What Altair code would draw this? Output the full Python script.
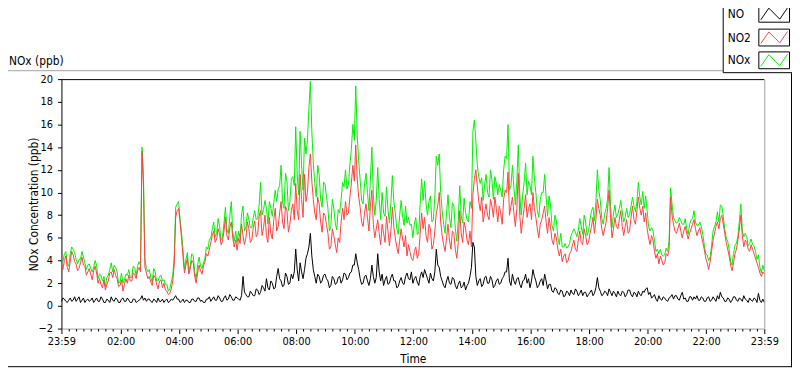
import json
import pandas as pd
import altair as alt

# ---- data: one sample every 3 minutes, starting 23:59 (one row per hour) ----
NO2 = [
    3.6, 3.2, 4.0, 4.4, 3.4, 3.0, 3.9, 4.8, 4.5, 3.9, 3.7, 3.1, 3.3, 3.8, 4.3, 3.6, 3.5, 2.7, 3.0, 3.3,
    2.8, 2.3, 3.1, 3.5, 2.9, 2.0, 2.4, 1.9, 1.6, 2.3, 1.4, 1.9, 2.2, 2.9, 3.0, 2.5, 3.2, 2.7, 2.4, 1.7,
    1.8, 2.3, 1.3, 1.9, 2.4, 2.0, 2.7, 2.2, 2.2, 2.9, 2.8, 2.4, 3.1, 3.4, 3.0, 13.6, 10.6, 3.4, 2.9, 2.4,
    2.6, 2.1, 1.8, 2.7, 2.5, 1.9, 1.5, 2.2, 2.3, 1.6, 2.0, 1.4, 1.3, 1.0, 1.1, 1.5, 2.2, 3.6, 7.8, 8.4,
    8.6, 7.4, 6.0, 4.4, 2.9, 3.6, 4.2, 2.8, 3.3, 4.0, 3.8, 2.6, 2.0, 2.9, 3.6, 3.1, 2.8, 3.5, 3.9, 4.6,
    4.4, 5.0, 5.6, 6.2, 6.6, 5.6, 5.9, 6.8, 6.3, 5.4, 5.7, 6.6, 7.8, 6.2, 5.8, 6.9, 7.4, 6.0, 5.2, 5.8,
    4.9, 6.0, 5.5, 7.2, 6.2, 5.4, 6.0, 7.4, 6.8, 5.6, 5.8, 6.9, 7.5, 6.1, 6.3, 7.9, 8.4, 6.2, 6.9, 8.0,
    6.2, 5.6, 7.8, 6.4, 5.9, 7.6, 8.6, 6.6, 7.0, 8.2, 9.2, 7.4, 6.8, 8.8, 8.4, 6.5, 7.2, 8.4, 9.0, 7.6,
    10.8, 8.4, 7.6, 11.6, 9.4, 7.8, 11.6, 9.2, 10.0, 12.2, 13.4, 11.0, 9.4, 8.2, 7.6, 9.6, 9.0, 7.4, 6.5, 8.2,
    8.0, 7.2, 6.4, 5.0, 5.2, 6.8, 6.2, 5.4, 4.7, 6.0, 5.6, 7.4, 8.6, 7.6, 9.2, 8.0, 8.2, 9.6, 10.8, 12.4,
    11.0, 14.2, 11.2, 9.6, 8.7, 7.4, 7.0, 8.2, 9.0, 7.8, 6.6, 8.8, 10.2, 7.2, 6.0, 6.8, 7.6, 6.4, 5.4, 7.2,
    6.4, 5.6, 7.9, 6.6, 5.3, 6.6, 8.7, 7.0, 6.0, 5.2, 4.6, 5.8, 6.8, 5.9, 5.2, 6.2, 4.4, 5.4, 4.8, 4.2,
    4.0, 4.8, 5.2, 4.2, 4.6, 6.4, 8.2, 6.8, 7.8, 6.2, 5.6, 7.2, 6.8, 5.0, 5.4, 6.6, 8.2, 8.8, 10.0, 7.4,
    6.2, 5.4, 4.8, 6.0, 7.2, 5.8, 5.0, 6.6, 6.4, 5.0, 4.2, 5.6, 8.4, 6.4, 5.6, 7.4, 6.8, 5.8, 5.4, 6.6,
    5.2, 9.8, 11.2, 12.0, 10.6, 9.2, 8.4, 9.6, 7.4, 8.2, 9.0, 8.0, 7.6, 9.4, 8.8, 7.8, 9.6, 8.6, 7.4, 8.8,
    8.2, 7.2, 9.4, 10.2, 10.0, 11.8, 8.0, 8.8, 9.6, 8.2, 7.0, 8.6, 11.7, 8.0, 6.4, 7.6, 8.6, 9.8, 7.8, 8.6,
    9.0, 7.6, 10.0, 8.6, 7.8, 6.8, 6.0, 7.2, 7.6, 8.2, 8.8, 7.4, 6.4, 7.8, 7.0, 5.8, 5.4, 6.4, 6.0, 5.0,
    4.4, 5.0, 3.9, 4.4, 4.6, 3.8, 4.0, 4.6, 4.8, 5.4, 5.8, 5.0, 4.8, 5.8, 6.6, 5.6, 5.4, 6.8, 6.2, 5.4,
    5.6, 6.4, 7.0, 7.8, 6.4, 7.6, 9.4, 8.6, 8.0, 6.8, 6.2, 6.8, 7.4, 8.6, 10.2, 7.8, 6.0, 6.8, 7.8, 7.0,
    6.8, 7.6, 8.4, 7.0, 6.2, 7.0, 7.6, 6.4, 6.6, 7.8, 8.8, 7.6, 7.2, 8.4, 9.6, 8.6, 8.0, 8.8, 7.4, 8.2,
    6.8, 6.0, 5.4, 6.2, 5.8, 4.8, 4.2, 4.6, 3.7, 4.4, 4.0, 3.6, 3.8, 4.6, 4.4, 5.0, 9.6, 8.0, 7.2, 6.6,
    6.4, 6.8, 7.3, 6.6, 6.0, 6.6, 7.0, 6.4, 5.9, 6.4, 6.8, 7.2, 7.6, 6.8, 6.2, 6.6, 6.9, 6.2, 5.6, 5.0,
    4.2, 3.8, 3.2, 3.9, 4.8, 5.8, 6.4, 7.0, 7.4, 6.8, 7.7, 8.0, 7.2, 6.4, 5.6, 5.0, 4.4, 3.6, 3.1, 3.8,
    4.6, 5.0, 5.8, 6.8, 8.0, 6.2, 5.2, 5.8, 5.6, 5.0, 4.8, 5.4, 5.0, 4.6, 4.2, 3.8, 3.4, 2.9, 2.6, 3.0,
    2.8,
]
NO = [
    0.4, 0.7, 0.6, 0.4, 0.3, 0.5, 0.7, 0.4, 0.5, 0.8, 0.4, 0.6, 0.8, 0.3, 0.5, 0.7, 0.3, 0.5, 0.6, 0.4,
    0.5, 0.7, 0.3, 0.5, 0.7, 0.4, 0.4, 0.8, 0.6, 0.3, 0.3, 0.6, 0.5, 0.3, 0.8, 0.5, 0.4, 0.7, 0.6, 0.3,
    0.3, 0.6, 0.7, 0.4, 0.4, 0.7, 0.5, 0.3, 0.3, 0.6, 0.6, 0.3, 0.4, 0.5, 0.6, 0.9, 0.5, 0.7, 0.4, 0.6,
    0.6, 0.4, 0.3, 0.6, 0.5, 0.3, 0.7, 0.4, 0.4, 0.6, 0.3, 0.5, 0.6, 0.3, 0.4, 0.6, 0.5, 0.7, 0.9, 0.6,
    0.6, 0.3, 0.4, 0.6, 0.3, 0.5, 0.5, 0.3, 0.3, 0.6, 0.6, 0.4, 0.4, 0.7, 0.7, 0.4, 0.5, 0.3, 0.3, 0.6,
    0.6, 0.8, 0.4, 0.6, 0.8, 0.5, 0.5, 0.9, 0.7, 0.4, 0.4, 0.7, 0.9, 0.5, 0.6, 1.0, 0.8, 0.5, 0.5, 0.8,
    0.7, 0.6, 0.5, 0.9, 2.6, 1.2, 1.0, 0.8, 0.8, 1.3, 1.1, 0.9, 0.9, 1.5, 1.4, 1.0, 1.2, 1.8, 1.6, 1.3,
    2.4, 1.6, 1.4, 2.2, 2.0, 1.5, 1.6, 2.6, 3.3, 2.4, 2.2, 1.7, 1.8, 2.9, 2.6, 1.9, 2.0, 2.8, 2.4, 3.0,
    5.0, 3.2, 2.2, 3.8, 3.0, 2.4, 3.2, 4.2, 4.6, 5.2, 6.4, 4.4, 3.2, 2.6, 2.0, 2.8, 2.6, 2.0, 2.2, 2.7,
    2.8, 2.4, 2.2, 1.6, 1.8, 2.6, 2.4, 1.9, 2.0, 2.5, 2.6, 2.0, 2.3, 2.9, 2.8, 2.3, 2.5, 2.9, 3.0, 3.6,
    3.6, 4.6, 3.8, 3.2, 2.4, 1.9, 2.0, 2.6, 2.7, 2.2, 1.8, 2.4, 3.6, 2.6, 2.0, 2.5, 4.6, 3.0, 2.2, 2.8,
    1.8, 2.3, 2.6, 1.9, 2.0, 2.5, 2.8, 2.2, 2.2, 1.6, 1.7, 2.2, 2.5, 2.0, 1.9, 2.6, 2.9, 2.4, 2.3, 3.0,
    2.0, 2.4, 2.6, 2.1, 1.8, 2.6, 3.0, 2.5, 3.2, 2.8, 2.4, 2.0, 2.9, 2.4, 2.2, 3.0, 5.0, 3.6, 3.4, 2.6,
    2.2, 1.8, 1.6, 2.2, 2.6, 2.0, 1.9, 2.5, 2.4, 1.8, 1.5, 1.9, 2.2, 1.6, 1.7, 2.1, 1.4, 1.8, 2.0, 2.6,
    3.4, 5.6, 5.2, 2.6, 1.8, 2.2, 2.4, 1.7, 1.9, 2.5, 2.6, 2.0, 2.0, 2.6, 2.3, 1.6, 1.8, 2.2, 2.4, 1.9,
    2.0, 2.4, 2.6, 3.0, 3.0, 4.2, 2.2, 1.8, 2.8, 2.2, 1.9, 2.4, 2.5, 1.9, 1.6, 2.2, 2.3, 2.8, 2.0, 2.4,
    1.6, 2.2, 3.2, 2.6, 2.2, 1.6, 1.8, 2.2, 2.4, 1.8, 2.8, 2.2, 1.5, 1.9, 1.9, 1.3, 1.2, 1.6, 1.5, 1.1,
    1.0, 1.4, 1.3, 0.8, 0.9, 1.3, 1.2, 0.9, 1.4, 1.1, 1.0, 1.5, 1.3, 0.9, 1.1, 1.4, 0.9, 1.2, 1.2, 0.8,
    1.0, 1.2, 1.4, 0.9, 1.1, 1.6, 2.5, 1.6, 1.3, 0.9, 1.0, 1.3, 1.2, 0.9, 1.5, 1.2, 0.9, 1.3, 1.1, 0.8,
    1.3, 1.0, 0.9, 1.3, 1.2, 0.8, 1.0, 1.4, 1.4, 1.0, 0.8, 1.2, 1.1, 0.8, 1.3, 1.0, 0.9, 1.3, 1.2, 1.5,
    1.6, 1.0, 1.2, 0.7, 0.8, 1.0, 0.6, 0.4, 0.9, 0.6, 0.5, 0.8, 0.7, 0.5, 0.4, 0.7, 0.8, 1.0, 0.6, 0.9,
    0.9, 0.6, 0.5, 0.9, 1.2, 0.6, 0.7, 0.4, 0.4, 0.8, 0.8, 0.5, 0.8, 0.6, 0.9, 0.5, 0.5, 0.8, 0.7, 0.4,
    0.4, 0.7, 0.8, 0.4, 0.5, 0.8, 0.6, 0.4, 0.9, 0.6, 1.2, 0.8, 0.7, 0.4, 0.4, 0.7, 0.6, 0.3, 0.5, 0.8,
    0.8, 0.5, 0.4, 0.7, 0.6, 0.4, 0.9, 0.6, 0.5, 0.3, 0.7, 0.5, 0.4, 0.7, 0.6, 0.3, 1.1, 0.5, 0.3, 0.6,
    0.3,
]
NOX = [
    4.0, 3.9, 4.6, 4.8, 3.7, 3.5, 4.6, 5.2, 5.0, 4.7, 4.1, 3.7, 4.1, 4.1, 4.8, 4.3, 3.8, 3.2, 3.6, 3.7,
    3.3, 3.0, 3.4, 4.0, 3.6, 2.4, 2.8, 2.7, 2.2, 2.6, 1.7, 2.5, 2.7, 3.2, 3.8, 3.0, 3.6, 3.4, 3.0, 2.0,
    2.1, 2.9, 2.0, 2.3, 2.8, 2.7, 3.2, 2.5, 2.5, 3.5, 3.4, 2.7, 3.5, 3.9, 3.6, 14.0, 11.6, 4.1, 3.3, 3.0,
    3.2, 2.5, 2.1, 3.3, 3.0, 2.2, 2.2, 2.6, 2.7, 2.2, 2.3, 1.9, 1.9, 1.3, 1.5, 2.1, 2.7, 4.3, 8.7, 9.0,
    9.2, 7.7, 6.4, 5.0, 3.2, 4.1, 4.7, 3.1, 3.6, 4.6, 4.4, 3.0, 2.4, 3.6, 4.3, 3.5, 3.3, 3.8, 4.2, 5.2,
    5.0, 5.8, 6.0, 6.8, 7.4, 6.1, 6.4, 7.7, 7.0, 5.8, 6.1, 7.3, 8.7, 6.7, 6.4, 7.9, 9.2, 6.5, 5.7, 6.6,
    5.6, 6.6, 6.0, 8.1, 8.8, 6.6, 7.0, 8.2, 7.6, 6.9, 6.9, 7.8, 8.4, 7.6, 7.7, 8.9, 10.9, 8.0, 8.5, 9.3,
    8.6, 7.2, 9.2, 8.6, 7.9, 9.1, 10.2, 9.2, 10.3, 10.6, 12.4, 9.1, 8.6, 11.7, 11.0, 8.4, 9.2, 11.2, 11.4, 10.6,
    15.8, 11.6, 9.8, 15.4, 12.4, 10.2, 14.8, 13.4, 14.6, 17.4, 19.8, 15.4, 12.6, 10.8, 9.6, 12.4, 11.6, 9.4, 8.7, 10.9,
    10.8, 9.6, 8.6, 6.6, 7.0, 9.4, 8.6, 7.3, 6.7, 8.5, 8.2, 9.4, 10.9, 10.5, 12.0, 10.3, 10.7, 12.5, 13.8, 16.0,
    14.6, 19.4, 15.0, 12.8, 11.1, 9.3, 9.0, 10.8, 11.7, 10.0, 8.4, 11.2, 14.0, 9.8, 8.0, 9.3, 12.2, 9.4, 7.6, 10.0,
    8.2, 7.9, 10.5, 8.5, 7.3, 9.1, 11.5, 9.2, 8.2, 6.8, 6.3, 8.0, 9.3, 7.9, 7.1, 8.8, 7.3, 7.8, 7.1, 7.2,
    6.0, 7.2, 7.8, 6.3, 6.4, 9.0, 11.2, 9.3, 11.0, 9.0, 8.0, 9.2, 9.7, 7.4, 7.6, 9.6, 13.2, 12.4, 13.4, 10.0,
    8.4, 7.2, 6.4, 8.2, 9.8, 7.8, 6.9, 9.1, 8.8, 6.8, 5.7, 7.5, 10.6, 8.0, 7.3, 9.5, 8.2, 7.6, 7.4, 9.2,
    8.6, 15.4, 16.4, 14.6, 12.4, 11.4, 10.8, 11.3, 9.3, 10.7, 11.6, 10.0, 9.6, 12.0, 11.1, 9.4, 11.4, 10.8, 9.8, 10.7,
    10.2, 9.6, 12.0, 13.2, 13.0, 16.0, 10.2, 10.6, 12.4, 10.4, 8.9, 11.0, 14.2, 9.9, 8.0, 9.8, 10.9, 12.6, 9.8, 11.0,
    10.6, 9.8, 13.2, 11.2, 10.0, 8.4, 7.8, 9.4, 10.0, 10.0, 11.6, 9.6, 7.9, 9.7, 8.9, 7.1, 6.6, 8.0, 7.5, 6.1,
    5.4, 6.4, 5.2, 5.2, 5.5, 5.1, 5.2, 5.5, 6.2, 6.5, 6.8, 6.5, 6.1, 6.7, 7.7, 7.0, 6.3, 8.0, 7.4, 6.2,
    6.6, 7.6, 8.4, 8.7, 7.5, 9.2, 12.0, 10.2, 9.3, 7.7, 7.2, 8.1, 8.6, 9.5, 12.2, 9.0, 6.9, 8.1, 8.9, 7.8,
    8.1, 8.6, 9.3, 8.3, 7.4, 7.8, 8.6, 7.8, 8.0, 8.8, 9.6, 8.8, 8.3, 9.2, 10.9, 9.6, 8.9, 10.1, 8.6, 9.7,
    8.4, 7.0, 6.6, 6.9, 6.6, 5.8, 4.8, 5.0, 4.6, 5.0, 4.5, 4.4, 4.5, 5.1, 4.8, 5.7, 10.4, 9.0, 7.8, 7.5,
    7.3, 7.4, 7.8, 7.5, 7.2, 7.2, 7.7, 6.8, 6.3, 7.2, 7.6, 7.7, 8.4, 7.4, 7.1, 7.1, 7.4, 7.0, 6.3, 5.4,
    4.6, 4.5, 4.0, 4.3, 5.3, 6.6, 7.0, 7.4, 8.3, 7.4, 8.9, 8.8, 7.9, 6.8, 6.0, 5.7, 5.0, 3.9, 3.6, 4.6,
    5.4, 5.5, 6.2, 7.5, 9.0, 6.6, 6.1, 6.4, 6.1, 5.3, 5.5, 5.9, 5.4, 5.3, 4.8, 4.1, 4.5, 3.4, 2.9, 3.6,
    3.1,
]
STEP_MIN = 3
assert len(NO2) == len(NO) == len(NOX) == 481
MINUTES = [i * STEP_MIN for i in range(len(NO2))]

TICK_MIN = [0, 121, 241, 361, 481, 601, 721, 841, 961, 1081, 1201, 1321, 1440]
TICK_LBL = ["23:59", "02:00", "04:00", "06:00", "08:00", "10:00", "12:00",
            "14:00", "16:00", "18:00", "20:00", "22:00", "23:59"]
MINOR_MIN = [1 + 15 * k for k in range(96) if k % 8 != 0]
Y_TICKS = [-2, 0, 2, 4, 6, 8, 10, 12, 14, 16, 18, 20]

SERIES = ["NO", "NO2", "NOx"]
COLORS = {"NO": "#000000", "NO2": "#ff4040", "NOx": "#00f000"}

df = pd.DataFrame({"t": MINUTES, "NO": NO, "NO2": NO2, "NOx": NOX})
minor_df = pd.DataFrame({"t": MINOR_MIN})
deco = pd.DataFrame({"d": [0]})

FONT = "DejaVu Sans Condensed, DejaVu Sans, sans-serif"
W, H = 710, 252
GRAY = "#a0a0a0"

label_expr = f"{json.dumps(TICK_LBL)}[indexof({json.dumps(TICK_MIN)}, datum.value)]"

x_scale = alt.Scale(domain=[0, 1440], nice=False, zero=False)
y_scale = alt.Scale(domain=[-2, 20], nice=False, zero=False)
x_axis = alt.Axis(values=TICK_MIN, labelExpr=label_expr, tickSize=5, tickColor="black",
                  domainColor=GRAY, labelFont=FONT, labelFontSize=11, labelColor="black",
                  labelPadding=2, labelFlush=False, labelOverlap=False, labelBound=False,
                  grid=False, title="Time", titleFont=FONT, titleFontSize=12,
                  titleFontWeight="normal", titleColor="black", titleX=W / 2, titleY=30,
                  titleBaseline="middle", titleAlign="center")
y_axis = alt.Axis(values=Y_TICKS, tickSize=4, tickColor="black", domainColor="black",
                  labelFont=FONT, labelFontSize=11, labelColor="black", labelPadding=5,
                  labelFlush=False, labelOverlap=False, grid=False,
                  title="NOx Concentration (ppb)", titleFont=FONT, titleFontSize=12,
                  titleFontWeight="normal", titleColor="black", titleAngle=270,
                  titleX=-28, titleY=H / 2, titleBaseline="middle", titleAlign="center")

X_ENC = alt.X("t:Q", scale=x_scale, axis=x_axis)


def line(col):
    return alt.Chart(df).mark_line(color=COLORS[col], strokeWidth=1).encode(
        x=X_ENC,
        y=alt.Y(f"{col}:Q", scale=y_scale, axis=y_axis),
    )


def hrule(x1, x2, y, color, w=1):
    return alt.Chart(deco).mark_rule(color=color, strokeWidth=w).encode(
        x=alt.value(x1), x2=alt.value(x2), y=alt.value(y))


def vrule(x, y1, y2, color, w=1):
    return alt.Chart(deco).mark_rule(color=color, strokeWidth=w).encode(
        x=alt.value(x), y=alt.value(y1), y2=alt.value(y2))


minor = alt.Chart(minor_df).mark_rule(color="black", strokeWidth=1).encode(
    x=X_ENC,
    y=alt.value(H + 0.5), y2=alt.value(H + 3),
)

# legend (LabVIEW style: label left, boxed zig-zag sample right)
legend_box = alt.Chart(deco).mark_rect(fill="white", stroke="black", strokeWidth=1).encode(
    x=alt.value(668.5), x2=alt.value(740), y=alt.value(-90), y2=alt.value(-6.5))
ZIG = "M-1,0.45L-0.4,-0.42L0.42,0.4L1,-0.45"
ROW_Y = [-66, -42, -19]
legend_parts = []
for i, s in enumerate(SERIES):
    legend_parts.append(alt.Chart(deco).mark_rect(fill="white", stroke="black", strokeWidth=1).encode(
        x=alt.value(704.5), x2=alt.value(735.5), y=alt.value(ROW_Y[i] - 8.5), y2=alt.value(ROW_Y[i] + 8.5)))
    legend_parts.append(alt.Chart(deco).mark_point(shape=ZIG, filled=False, stroke=COLORS[s],
                                                   strokeWidth=1, size=729, opacity=1).encode(
        x=alt.value(720), y=alt.value(ROW_Y[i])))
    legend_parts.append(alt.Chart(deco).mark_text(text=s, align="left", baseline="middle", font=FONT,
                                                  fontSize=12, color="black").encode(
        x=alt.value(673), y=alt.value(ROW_Y[i])))

graph_label = alt.Chart(deco).mark_text(text="NOx (ppb)", align="left", baseline="middle", font=FONT,
                                        fontSize=12, color="black").encode(
    x=alt.value(-53), y=alt.value(-18.5))

layers = [
    line("NOx"), line("NO2"), line("NO"),
    hrule(0, W, 0.5, "black"),
    vrule(W + 0.5, 0, H, GRAY),
    minor,
    hrule(-60, 668, -8.5, GRAY),
    hrule(-60, 740, 290.5, "black"),
    vrule(737.5, -6, 291, "black"),
    legend_box,
    *legend_parts,
    graph_label,
]

chart = alt.layer(*layers).properties(
    width=W, height=H,
    autosize=alt.AutoSizeParams(type="none"),
    padding={"left": 54, "top": 70, "right": 28, "bottom": 39},
    background="white",
).configure_view(stroke=None)

chart.save("out.html", embed_options={"renderer": "svg", "actions": False})
